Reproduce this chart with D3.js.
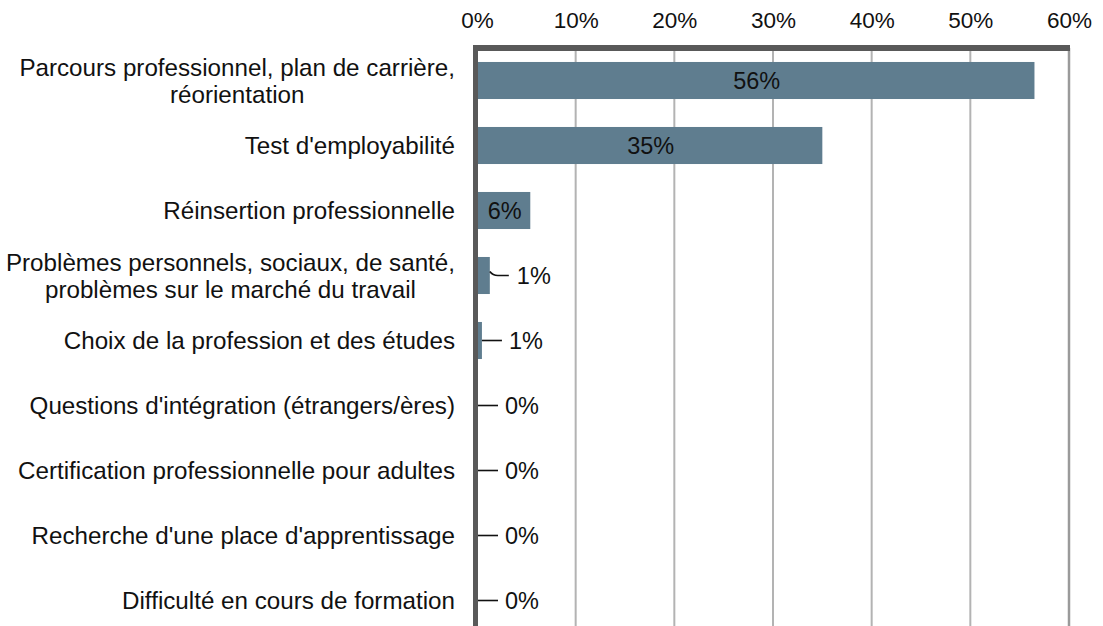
<!DOCTYPE html>
<html><head><meta charset="utf-8">
<script src="https://cdn.jsdelivr.net/npm/d3@7"></script>
<style>body{margin:0;background:#fff}svg{display:block}text{font-family:"Liberation Sans",Arial,sans-serif}</style>
</head><body>
<svg id="c" width="1103" height="626"></svg>
<script>
const categories = [
  ["Parcours professionnel, plan de carrière,", "réorientation"],
  ["Test d'employabilité"],
  ["Réinsertion professionnelle"],
  ["Problèmes personnels, sociaux, de santé,", "problèmes sur le marché du travail"],
  ["Choix de la profession et des études"],
  ["Questions d'intégration (étrangers/ères)"],
  ["Certification professionnelle pour adultes"],
  ["Recherche d'une place d'apprentissage"],
  ["Difficulté en cours de formation"]
];
const values = [56.5, 35.0, 5.4, 1.3, 0.5, 0, 0, 0, 0];
const valueLabels = ["56%", "35%", "6%", "1%", "1%", "0%", "0%", "0%", "0%"];
const tickValues = [0, 10, 20, 30, 40, 50, 60];
const insideLabel = [true, true, true, false, false, false, false, false, false];

const svg = d3.select("#c");
const x = d3.scaleLinear().domain([0, 60]).range([477, 1069]);
const y = d3.scaleBand().domain(d3.range(categories.length)).range([48, 48 + 65 * categories.length])
  .paddingInner(0.43).paddingOuter(0.215);

// gridlines
svg.append("g").selectAll("line").data(tickValues.filter(d => d > 0)).join("line")
  .attr("x1", d => x(d)).attr("x2", d => x(d)).attr("y1", 48).attr("y2", 626)
  .attr("stroke", d => d === 60 ? "#9a9a9a" : "#b3b3b3").attr("stroke-width", d => d === 60 ? 2.5 : 2);

// top axis
const ax = svg.append("g").attr("transform", "translate(0,48)")
  .call(d3.axisTop(x).tickValues(tickValues).tickFormat(d => d + "%").tickSize(0).tickPadding(0));
ax.select(".domain").remove();
ax.selectAll("text").attr("font-size", 22.5).attr("fill", "#111").attr("y", -20)
  .attr("font-family", "Liberation Sans, Arial, sans-serif");

// bars
svg.append("g").selectAll("rect").data(values).join("rect")
  .attr("x", x(0)).attr("y", (d, i) => y(i)).attr("width", d => x(d) - x(0)).attr("height", y.bandwidth())
  .attr("fill", "#5f7d8f");

// axis lines
svg.append("line").attr("x1", 473).attr("x2", 1070).attr("y1", 48).attr("y2", 48)
  .attr("stroke", "#595959").attr("stroke-width", 6);
svg.append("line").attr("x1", 475.5).attr("x2", 475.5).attr("y1", 45).attr("y2", 626)
  .attr("stroke", "#595959").attr("stroke-width", 5);

// value labels
const lab = svg.append("g");
values.forEach((v, i) => {
  const cy = y(i) + y.bandwidth() / 2;
  if (insideLabel[i]) {
    lab.append("text").attr("x", (x(0) + x(v)) / 2 + 1).attr("y", cy).attr("dy", "0.36em")
      .attr("text-anchor", "middle").attr("font-size", 23.5).attr("fill", "#111").text(valueLabels[i]);
  } else {
    const x0 = Math.max(x(v), 478);
    const d = v > 1 ? `M${x0},${cy - 4} Q${x0 + 3},${cy} ${x0 + 8},${cy} L${x0 + 19},${cy}`
                    : `M${x0},${cy} L${x0 + 20},${cy}`;
    lab.append("path").attr("d", d)
      .attr("fill", "none").attr("stroke", "#111").attr("stroke-width", 1.6);
    lab.append("text").attr("x", x0 + 27).attr("y", cy).attr("dy", "0.36em")
      .attr("text-anchor", "start").attr("font-size", 23.5).attr("fill", "#111").text(valueLabels[i]);
  }
});

// category labels: block right-aligned, lines centered
const cg = svg.append("g");
categories.forEach((lines, i) => {
  const cy = y(i) + y.bandwidth() / 2;
  const lh = 27;
  const ts = lines.map((ln, k) => cg.append("text").attr("font-size", 24.2).attr("fill", "#111")
    .attr("text-anchor", "middle")
    .attr("y", cy + (k - (lines.length - 1) / 2) * lh).attr("dy", "0.36em").text(ln));
  const w = d3.max(ts, t => t.node().getComputedTextLength());
  ts.forEach(t => t.attr("x", 455 - w / 2));
});
</script>
</body></html>
